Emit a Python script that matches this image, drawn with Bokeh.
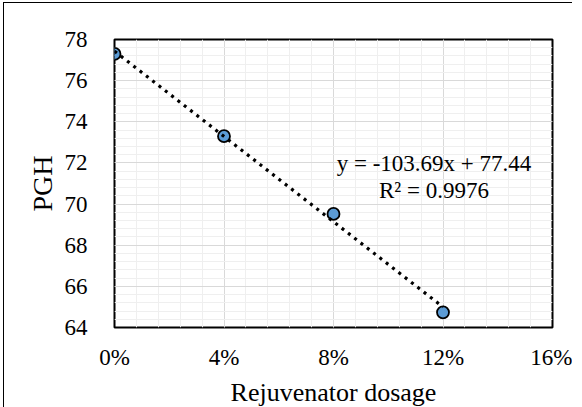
import numpy as np
from bokeh.plotting import figure
from bokeh.models import FixedTicker, NumeralTickFormatter, ColumnDataSource, InlineStyleSheet
from bokeh.core.properties import value
from bokeh.embed import file_html
from bokeh.resources import INLINE

# ---- data ----
dosage = [0.00, 0.04, 0.08, 0.12]
pgh = [77.30, 73.30, 69.52, 64.74]
x_ticks = [0.00, 0.04, 0.08, 0.12, 0.16]
y_ticks = [64, 66, 68, 70, 72, 74, 76, 78]
eq_lines = ["y = -103.69x + 77.44", "R\u00b2 = 0.9976"]
x_title = "Rejuvenator dosage"
y_title = "PGH"

FONT = "Liberation Serif"

# linear trendline fitted through the points
slope, intercept = np.polyfit(dosage, pgh, 1)
trend_x = [min(dosage), max(dosage)]
trend_y = [slope * v + intercept for v in trend_x]

p = figure(
    frame_width=438, frame_height=288,
    x_range=(x_ticks[0], x_ticks[-1]), y_range=(y_ticks[0], y_ticks[-1]),
    output_backend="svg", toolbar_location=None,
    min_border_left=110, min_border_top=36, min_border_right=20, min_border_bottom=68,
    background_fill_color="white", border_fill_color="white",
)
p.styles = {"border-left": "1.5px solid black", "border-top": "1.5px solid black",
            "margin-left": "3px", "margin-top": "2px"}
# every text of this chart is set in the serif face
p.stylesheets = [InlineStyleSheet(
    css="text, svg text { font-family: 'Liberation Serif', serif !important; }")]

x_minor = list(np.round(np.arange(x_ticks[0], x_ticks[-1] + 1e-9, 0.008), 4))
y_minor = list(np.round(np.arange(y_ticks[0], y_ticks[-1] + 1e-9, 0.4), 2))

p.xaxis.ticker = FixedTicker(ticks=x_ticks, minor_ticks=x_minor)
p.yaxis.ticker = FixedTicker(ticks=y_ticks, minor_ticks=y_minor)
p.xaxis.formatter = NumeralTickFormatter(format="0%")

p.axis.axis_line_color = None
p.axis.major_tick_line_color = None
p.axis.minor_tick_line_color = None
p.axis.major_label_text_font = FONT
p.axis.major_label_text_font_size = "23px"
p.axis.major_label_text_color = "black"
p.axis.axis_label_text_font = FONT
p.axis.axis_label_text_font_style = "normal"
p.axis.axis_label_text_color = "black"

p.xaxis.major_label_standoff = 11
p.yaxis.major_label_standoff = 21
p.xaxis.axis_label = x_title
p.yaxis.axis_label = y_title
p.xaxis.axis_label_text_font_size = "26px"
p.yaxis.axis_label_text_font_size = "28px"
p.xaxis.axis_label_standoff = 5
p.yaxis.axis_label_standoff = 4

p.outline_line_color = "black"
p.outline_line_width = 2

p.grid.grid_line_color = "#D9D9D9"
p.grid.grid_line_width = 1
p.grid.minor_grid_line_color = "#EFEFEF"
p.grid.minor_grid_line_width = 1

src = ColumnDataSource(dict(x=dosage, y=pgh))
p.scatter("x", "y", source=src, size=12, fill_color="#5B9BD5",
          line_color="black", line_width=1.8)

p.line(trend_x, trend_y, line_color="black", line_width=3.2, line_dash="3 5")

eq_x = [0.1167, 0.1167]
eq_y = [71.97, 70.66]
p.text(x=eq_x, y=eq_y, text=eq_lines, text_font=value(FONT),
       text_font_size="23px", text_align="center", text_baseline="middle",
       text_color="black")

open("out.html", "w").write(file_html(p, INLINE))
